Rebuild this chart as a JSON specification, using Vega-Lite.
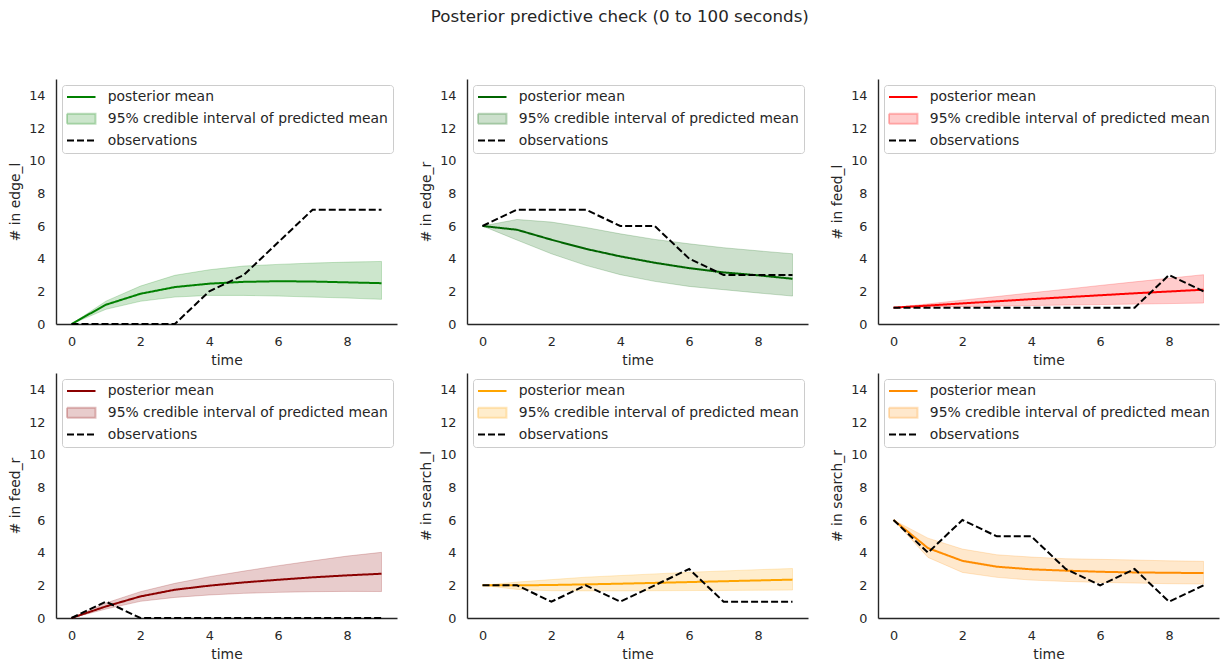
{
  "$schema": "https://vega.github.io/schema/vega-lite/v6.json",
  "padding": {"left": 8, "top": 9, "right": 5, "bottom": 5},
  "background": "white",
  "title": {"text": "Posterior predictive check (0 to 100 seconds)", "font": "DejaVu Sans", "fontSize": 16.7, "fontWeight": "normal", "color": "#262626", "anchor": "middle", "offset": 53, "dx": 6},
  "data": {"values": [
    {"p": "edge_l", "t": 0, "mean": 0, "lo": 0, "hi": 0, "obs": 0},
    {"p": "edge_l", "t": 1, "mean": 1.18, "lo": 0.9, "hi": 1.4, "obs": 0},
    {"p": "edge_l", "t": 2, "mean": 1.85, "lo": 1.39, "hi": 2.32, "obs": 0},
    {"p": "edge_l", "t": 3, "mean": 2.26, "lo": 1.65, "hi": 2.98, "obs": 0},
    {"p": "edge_l", "t": 4, "mean": 2.47, "lo": 1.75, "hi": 3.32, "obs": 2},
    {"p": "edge_l", "t": 5, "mean": 2.58, "lo": 1.75, "hi": 3.55, "obs": 3},
    {"p": "edge_l", "t": 6, "mean": 2.62, "lo": 1.71, "hi": 3.65, "obs": 5},
    {"p": "edge_l", "t": 7, "mean": 2.6, "lo": 1.65, "hi": 3.73, "obs": 7},
    {"p": "edge_l", "t": 8, "mean": 2.55, "lo": 1.59, "hi": 3.79, "obs": 7},
    {"p": "edge_l", "t": 9, "mean": 2.5, "lo": 1.51, "hi": 3.83, "obs": 7},
    {"p": "edge_r", "t": 0, "mean": 6, "lo": 6, "hi": 6, "obs": 6},
    {"p": "edge_r", "t": 1, "mean": 5.77, "lo": 5.14, "hi": 6.4, "obs": 7},
    {"p": "edge_r", "t": 2, "mean": 5.16, "lo": 4.3, "hi": 6.24, "obs": 7},
    {"p": "edge_r", "t": 3, "mean": 4.6, "lo": 3.59, "hi": 5.91, "obs": 7},
    {"p": "edge_r", "t": 4, "mean": 4.14, "lo": 3.02, "hi": 5.52, "obs": 6},
    {"p": "edge_r", "t": 5, "mean": 3.75, "lo": 2.61, "hi": 5.18, "obs": 6},
    {"p": "edge_r", "t": 6, "mean": 3.42, "lo": 2.3, "hi": 4.91, "obs": 4},
    {"p": "edge_r", "t": 7, "mean": 3.16, "lo": 2.1, "hi": 4.67, "obs": 3},
    {"p": "edge_r", "t": 8, "mean": 2.98, "lo": 1.9, "hi": 4.48, "obs": 3},
    {"p": "edge_r", "t": 9, "mean": 2.77, "lo": 1.71, "hi": 4.3, "obs": 3},
    {"p": "feed_l", "t": 0, "mean": 1, "lo": 1, "hi": 1, "obs": 1},
    {"p": "feed_l", "t": 1, "mean": 1.13, "lo": 1.04, "hi": 1.23, "obs": 1},
    {"p": "feed_l", "t": 2, "mean": 1.26, "lo": 1.07, "hi": 1.46, "obs": 1},
    {"p": "feed_l", "t": 3, "mean": 1.39, "lo": 1.1, "hi": 1.68, "obs": 1},
    {"p": "feed_l", "t": 4, "mean": 1.52, "lo": 1.13, "hi": 1.91, "obs": 1},
    {"p": "feed_l", "t": 5, "mean": 1.64, "lo": 1.16, "hi": 2.13, "obs": 1},
    {"p": "feed_l", "t": 6, "mean": 1.76, "lo": 1.19, "hi": 2.36, "obs": 1},
    {"p": "feed_l", "t": 7, "mean": 1.88, "lo": 1.22, "hi": 2.58, "obs": 1},
    {"p": "feed_l", "t": 8, "mean": 1.99, "lo": 1.25, "hi": 2.8, "obs": 3},
    {"p": "feed_l", "t": 9, "mean": 2.1, "lo": 1.28, "hi": 3.02, "obs": 2},
    {"p": "feed_r", "t": 0, "mean": 0, "lo": 0, "hi": 0, "obs": 0},
    {"p": "feed_r", "t": 1, "mean": 0.71, "lo": 0.55, "hi": 0.92, "obs": 1},
    {"p": "feed_r", "t": 2, "mean": 1.32, "lo": 1.02, "hi": 1.61, "obs": 0},
    {"p": "feed_r", "t": 3, "mean": 1.73, "lo": 1.26, "hi": 2.12, "obs": 0},
    {"p": "feed_r", "t": 4, "mean": 1.98, "lo": 1.41, "hi": 2.53, "obs": 0},
    {"p": "feed_r", "t": 5, "mean": 2.18, "lo": 1.51, "hi": 2.87, "obs": 0},
    {"p": "feed_r", "t": 6, "mean": 2.34, "lo": 1.57, "hi": 3.2, "obs": 0},
    {"p": "feed_r", "t": 7, "mean": 2.49, "lo": 1.61, "hi": 3.5, "obs": 0},
    {"p": "feed_r", "t": 8, "mean": 2.61, "lo": 1.63, "hi": 3.79, "obs": 0},
    {"p": "feed_r", "t": 9, "mean": 2.71, "lo": 1.62, "hi": 4.02, "obs": 0},
    {"p": "search_l", "t": 0, "mean": 2, "lo": 2, "hi": 2, "obs": 2},
    {"p": "search_l", "t": 1, "mean": 2.0, "lo": 1.75, "hi": 2.2, "obs": 2},
    {"p": "search_l", "t": 2, "mean": 2.02, "lo": 1.67, "hi": 2.35, "obs": 1},
    {"p": "search_l", "t": 3, "mean": 2.06, "lo": 1.66, "hi": 2.5, "obs": 2},
    {"p": "search_l", "t": 4, "mean": 2.1, "lo": 1.66, "hi": 2.6, "obs": 1},
    {"p": "search_l", "t": 5, "mean": 2.15, "lo": 1.67, "hi": 2.7, "obs": 2},
    {"p": "search_l", "t": 6, "mean": 2.2, "lo": 1.68, "hi": 2.8, "obs": 3},
    {"p": "search_l", "t": 7, "mean": 2.25, "lo": 1.69, "hi": 2.88, "obs": 1},
    {"p": "search_l", "t": 8, "mean": 2.3, "lo": 1.7, "hi": 2.96, "obs": 1},
    {"p": "search_l", "t": 9, "mean": 2.35, "lo": 1.71, "hi": 3.03, "obs": 1},
    {"p": "search_r", "t": 0, "mean": 6, "lo": 6, "hi": 6, "obs": 6},
    {"p": "search_r", "t": 1, "mean": 4.28, "lo": 3.71, "hi": 4.89, "obs": 4},
    {"p": "search_r", "t": 2, "mean": 3.5, "lo": 2.79, "hi": 4.22, "obs": 6},
    {"p": "search_r", "t": 3, "mean": 3.14, "lo": 2.49, "hi": 3.87, "obs": 5},
    {"p": "search_r", "t": 4, "mean": 2.98, "lo": 2.32, "hi": 3.73, "obs": 5},
    {"p": "search_r", "t": 5, "mean": 2.9, "lo": 2.24, "hi": 3.63, "obs": 3},
    {"p": "search_r", "t": 6, "mean": 2.83, "lo": 2.18, "hi": 3.59, "obs": 2},
    {"p": "search_r", "t": 7, "mean": 2.79, "lo": 2.14, "hi": 3.55, "obs": 3},
    {"p": "search_r", "t": 8, "mean": 2.77, "lo": 2.1, "hi": 3.5, "obs": 1},
    {"p": "search_r", "t": 9, "mean": 2.75, "lo": 2.08, "hi": 3.47, "obs": 2}
  ]},
  "columns": 3,
  "spacing": {"row": 49, "column": 70},
  "bounds": "flush",
  "resolve": {"scale": {"color": "independent", "strokeDash": "independent", "x": "independent", "y": "independent"}, "legend": {"color": "independent", "strokeDash": "independent"}},
  "concat": [
    {
      "width": 341, "height": 245,
      "transform": [{"filter": {"field": "p", "equal": "edge_l"}}],
      "encoding": {
        "x": {"field": "t", "type": "quantitative", "title": "time", "scale": {"domain": [-0.45, 9.45], "nice": false, "zero": false}, "axis": {"values": [0, 2, 4, 6, 8]}},
        "y": {"field": "y", "type": "quantitative", "title": "# in edge_l", "scale": {"domain": [0, 15], "nice": false}, "axis": {"values": [0, 2, 4, 6, 8, 10, 12, 14]}},
        "color": {"field": "s", "type": "nominal", "scale": {"domain": ["mean", "lo", "obs"], "range": ["green", "green", "black"]},
          "legend": {"title": null, "labelExpr": "datum.value === 'mean' ? 'posterior mean' : datum.value === 'lo' ? '95% credible interval of predicted mean' : 'observations'",
            "encode": {"symbols": {"update": {
              "shape": [{"test": "datum.value === 'lo'", "value": "M-2.85,-1H2.85V1H-2.85Z"}, {"value": "M-2.85,0H2.85"}],
              "fill": [{"test": "datum.value === 'lo'", "value": "green"}, {"value": "transparent"}],
              "stroke": [{"test": "datum.value === 'obs'", "value": "black"}, {"value": "green"}],
              "fillOpacity": [{"test": "datum.value === 'lo'", "value": 0.2}, {"value": 1}],
              "strokeOpacity": [{"test": "datum.value === 'lo'", "value": 0.25}, {"value": 1}],
              "opacity": {"value": 1}}}}}}
      },
      "layer": [
        {"transform": [{"fold": ["lo"], "as": ["s", "y"]}],
         "mark": {"type": "area", "fillOpacity": 0.2, "stroke": "green", "strokeOpacity": 0.2, "strokeWidth": 1},
         "encoding": {"y2": {"field": "hi"}}},
        {"transform": [{"fold": ["mean", "obs"], "as": ["s", "y"]}],
         "mark": {"type": "line", "strokeWidth": 2},
         "encoding": {"strokeDash": {"field": "s", "type": "nominal", "scale": {"domain": ["mean", "lo", "obs"], "range": [[1, 0], [1, 0], [7, 3]]}, "legend": {"title": null}}}}
      ]
    },
    {
      "width": 341, "height": 245,
      "transform": [{"filter": {"field": "p", "equal": "edge_r"}}],
      "encoding": {
        "x": {"field": "t", "type": "quantitative", "title": "time", "scale": {"domain": [-0.45, 9.45], "nice": false, "zero": false}, "axis": {"values": [0, 2, 4, 6, 8]}},
        "y": {"field": "y", "type": "quantitative", "title": "# in edge_r", "scale": {"domain": [0, 15], "nice": false}, "axis": {"values": [0, 2, 4, 6, 8, 10, 12, 14]}},
        "color": {"field": "s", "type": "nominal", "scale": {"domain": ["mean", "lo", "obs"], "range": ["darkgreen", "darkgreen", "black"]},
          "legend": {"title": null, "labelExpr": "datum.value === 'mean' ? 'posterior mean' : datum.value === 'lo' ? '95% credible interval of predicted mean' : 'observations'",
            "encode": {"symbols": {"update": {
              "shape": [{"test": "datum.value === 'lo'", "value": "M-2.85,-1H2.85V1H-2.85Z"}, {"value": "M-2.85,0H2.85"}],
              "fill": [{"test": "datum.value === 'lo'", "value": "darkgreen"}, {"value": "transparent"}],
              "stroke": [{"test": "datum.value === 'obs'", "value": "black"}, {"value": "darkgreen"}],
              "fillOpacity": [{"test": "datum.value === 'lo'", "value": 0.2}, {"value": 1}],
              "strokeOpacity": [{"test": "datum.value === 'lo'", "value": 0.25}, {"value": 1}],
              "opacity": {"value": 1}}}}}}
      },
      "layer": [
        {"transform": [{"fold": ["lo"], "as": ["s", "y"]}],
         "mark": {"type": "area", "fillOpacity": 0.2, "stroke": "darkgreen", "strokeOpacity": 0.2, "strokeWidth": 1},
         "encoding": {"y2": {"field": "hi"}}},
        {"transform": [{"fold": ["mean", "obs"], "as": ["s", "y"]}],
         "mark": {"type": "line", "strokeWidth": 2},
         "encoding": {"strokeDash": {"field": "s", "type": "nominal", "scale": {"domain": ["mean", "lo", "obs"], "range": [[1, 0], [1, 0], [7, 3]]}, "legend": {"title": null}}}}
      ]
    },
    {
      "width": 341, "height": 245,
      "transform": [{"filter": {"field": "p", "equal": "feed_l"}}],
      "encoding": {
        "x": {"field": "t", "type": "quantitative", "title": "time", "scale": {"domain": [-0.45, 9.45], "nice": false, "zero": false}, "axis": {"values": [0, 2, 4, 6, 8]}},
        "y": {"field": "y", "type": "quantitative", "title": "# in feed_l", "scale": {"domain": [0, 15], "nice": false}, "axis": {"values": [0, 2, 4, 6, 8, 10, 12, 14]}},
        "color": {"field": "s", "type": "nominal", "scale": {"domain": ["mean", "lo", "obs"], "range": ["red", "red", "black"]},
          "legend": {"title": null, "labelExpr": "datum.value === 'mean' ? 'posterior mean' : datum.value === 'lo' ? '95% credible interval of predicted mean' : 'observations'",
            "encode": {"symbols": {"update": {
              "shape": [{"test": "datum.value === 'lo'", "value": "M-2.85,-1H2.85V1H-2.85Z"}, {"value": "M-2.85,0H2.85"}],
              "fill": [{"test": "datum.value === 'lo'", "value": "red"}, {"value": "transparent"}],
              "stroke": [{"test": "datum.value === 'obs'", "value": "black"}, {"value": "red"}],
              "fillOpacity": [{"test": "datum.value === 'lo'", "value": 0.2}, {"value": 1}],
              "strokeOpacity": [{"test": "datum.value === 'lo'", "value": 0.25}, {"value": 1}],
              "opacity": {"value": 1}}}}}}
      },
      "layer": [
        {"transform": [{"fold": ["lo"], "as": ["s", "y"]}],
         "mark": {"type": "area", "fillOpacity": 0.2, "stroke": "red", "strokeOpacity": 0.2, "strokeWidth": 1},
         "encoding": {"y2": {"field": "hi"}}},
        {"transform": [{"fold": ["mean", "obs"], "as": ["s", "y"]}],
         "mark": {"type": "line", "strokeWidth": 2},
         "encoding": {"strokeDash": {"field": "s", "type": "nominal", "scale": {"domain": ["mean", "lo", "obs"], "range": [[1, 0], [1, 0], [7, 3]]}, "legend": {"title": null}}}}
      ]
    },
    {
      "width": 341, "height": 245,
      "transform": [{"filter": {"field": "p", "equal": "feed_r"}}],
      "encoding": {
        "x": {"field": "t", "type": "quantitative", "title": "time", "scale": {"domain": [-0.45, 9.45], "nice": false, "zero": false}, "axis": {"values": [0, 2, 4, 6, 8]}},
        "y": {"field": "y", "type": "quantitative", "title": "# in feed_r", "scale": {"domain": [0, 15], "nice": false}, "axis": {"values": [0, 2, 4, 6, 8, 10, 12, 14]}},
        "color": {"field": "s", "type": "nominal", "scale": {"domain": ["mean", "lo", "obs"], "range": ["darkred", "darkred", "black"]},
          "legend": {"title": null, "labelExpr": "datum.value === 'mean' ? 'posterior mean' : datum.value === 'lo' ? '95% credible interval of predicted mean' : 'observations'",
            "encode": {"symbols": {"update": {
              "shape": [{"test": "datum.value === 'lo'", "value": "M-2.85,-1H2.85V1H-2.85Z"}, {"value": "M-2.85,0H2.85"}],
              "fill": [{"test": "datum.value === 'lo'", "value": "darkred"}, {"value": "transparent"}],
              "stroke": [{"test": "datum.value === 'obs'", "value": "black"}, {"value": "darkred"}],
              "fillOpacity": [{"test": "datum.value === 'lo'", "value": 0.2}, {"value": 1}],
              "strokeOpacity": [{"test": "datum.value === 'lo'", "value": 0.25}, {"value": 1}],
              "opacity": {"value": 1}}}}}}
      },
      "layer": [
        {"transform": [{"fold": ["lo"], "as": ["s", "y"]}],
         "mark": {"type": "area", "fillOpacity": 0.2, "stroke": "darkred", "strokeOpacity": 0.2, "strokeWidth": 1},
         "encoding": {"y2": {"field": "hi"}}},
        {"transform": [{"fold": ["mean", "obs"], "as": ["s", "y"]}],
         "mark": {"type": "line", "strokeWidth": 2},
         "encoding": {"strokeDash": {"field": "s", "type": "nominal", "scale": {"domain": ["mean", "lo", "obs"], "range": [[1, 0], [1, 0], [7, 3]]}, "legend": {"title": null}}}}
      ]
    },
    {
      "width": 341, "height": 245,
      "transform": [{"filter": {"field": "p", "equal": "search_l"}}],
      "encoding": {
        "x": {"field": "t", "type": "quantitative", "title": "time", "scale": {"domain": [-0.45, 9.45], "nice": false, "zero": false}, "axis": {"values": [0, 2, 4, 6, 8]}},
        "y": {"field": "y", "type": "quantitative", "title": "# in search_l", "scale": {"domain": [0, 15], "nice": false}, "axis": {"values": [0, 2, 4, 6, 8, 10, 12, 14]}},
        "color": {"field": "s", "type": "nominal", "scale": {"domain": ["mean", "lo", "obs"], "range": ["orange", "orange", "black"]},
          "legend": {"title": null, "labelExpr": "datum.value === 'mean' ? 'posterior mean' : datum.value === 'lo' ? '95% credible interval of predicted mean' : 'observations'",
            "encode": {"symbols": {"update": {
              "shape": [{"test": "datum.value === 'lo'", "value": "M-2.85,-1H2.85V1H-2.85Z"}, {"value": "M-2.85,0H2.85"}],
              "fill": [{"test": "datum.value === 'lo'", "value": "orange"}, {"value": "transparent"}],
              "stroke": [{"test": "datum.value === 'obs'", "value": "black"}, {"value": "orange"}],
              "fillOpacity": [{"test": "datum.value === 'lo'", "value": 0.2}, {"value": 1}],
              "strokeOpacity": [{"test": "datum.value === 'lo'", "value": 0.25}, {"value": 1}],
              "opacity": {"value": 1}}}}}}
      },
      "layer": [
        {"transform": [{"fold": ["lo"], "as": ["s", "y"]}],
         "mark": {"type": "area", "fillOpacity": 0.2, "stroke": "orange", "strokeOpacity": 0.2, "strokeWidth": 1},
         "encoding": {"y2": {"field": "hi"}}},
        {"transform": [{"fold": ["mean", "obs"], "as": ["s", "y"]}],
         "mark": {"type": "line", "strokeWidth": 2},
         "encoding": {"strokeDash": {"field": "s", "type": "nominal", "scale": {"domain": ["mean", "lo", "obs"], "range": [[1, 0], [1, 0], [7, 3]]}, "legend": {"title": null}}}}
      ]
    },
    {
      "width": 341, "height": 245,
      "transform": [{"filter": {"field": "p", "equal": "search_r"}}],
      "encoding": {
        "x": {"field": "t", "type": "quantitative", "title": "time", "scale": {"domain": [-0.45, 9.45], "nice": false, "zero": false}, "axis": {"values": [0, 2, 4, 6, 8]}},
        "y": {"field": "y", "type": "quantitative", "title": "# in search_r", "scale": {"domain": [0, 15], "nice": false}, "axis": {"values": [0, 2, 4, 6, 8, 10, 12, 14]}},
        "color": {"field": "s", "type": "nominal", "scale": {"domain": ["mean", "lo", "obs"], "range": ["darkorange", "darkorange", "black"]},
          "legend": {"title": null, "labelExpr": "datum.value === 'mean' ? 'posterior mean' : datum.value === 'lo' ? '95% credible interval of predicted mean' : 'observations'",
            "encode": {"symbols": {"update": {
              "shape": [{"test": "datum.value === 'lo'", "value": "M-2.85,-1H2.85V1H-2.85Z"}, {"value": "M-2.85,0H2.85"}],
              "fill": [{"test": "datum.value === 'lo'", "value": "darkorange"}, {"value": "transparent"}],
              "stroke": [{"test": "datum.value === 'obs'", "value": "black"}, {"value": "darkorange"}],
              "fillOpacity": [{"test": "datum.value === 'lo'", "value": 0.2}, {"value": 1}],
              "strokeOpacity": [{"test": "datum.value === 'lo'", "value": 0.25}, {"value": 1}],
              "opacity": {"value": 1}}}}}}
      },
      "layer": [
        {"transform": [{"fold": ["lo"], "as": ["s", "y"]}],
         "mark": {"type": "area", "fillOpacity": 0.2, "stroke": "darkorange", "strokeOpacity": 0.2, "strokeWidth": 1},
         "encoding": {"y2": {"field": "hi"}}},
        {"transform": [{"fold": ["mean", "obs"], "as": ["s", "y"]}],
         "mark": {"type": "line", "strokeWidth": 2},
         "encoding": {"strokeDash": {"field": "s", "type": "nominal", "scale": {"domain": ["mean", "lo", "obs"], "range": [[1, 0], [1, 0], [7, 3]]}, "legend": {"title": null}}}}
      ]
    }
  ],
  "config": {
    "view": {"stroke": null},
    "font": "DejaVu Sans",
    "axis": {"domainColor": "#262626", "domainWidth": 1.4, "ticks": false, "grid": false, "labelFont": "DejaVu Sans", "labelFontSize": 12.8, "labelColor": "#262626", "titleFont": "DejaVu Sans", "titleFontSize": 13.9, "titleFontWeight": "normal", "titleColor": "#262626", "labelPadding": 11, "labelFlush": false, "labelOverlap": false},
    "axisX": {"titlePadding": 6},
    "axisY": {"titlePadding": 6},
    "legend": {"orient": "top-left", "offset": 6, "padding": 5, "fillColor": "white", "strokeColor": "#cccccc", "cornerRadius": 3, "labelFont": "DejaVu Sans", "labelFontSize": 13.9, "labelColor": "#262626", "labelLimit": 400, "symbolSize": 100, "symbolStrokeWidth": 2, "symbolType": "stroke", "symbolOffset": 7.3, "labelOffset": 19.6, "rowPadding": 4.8}
  }
}
